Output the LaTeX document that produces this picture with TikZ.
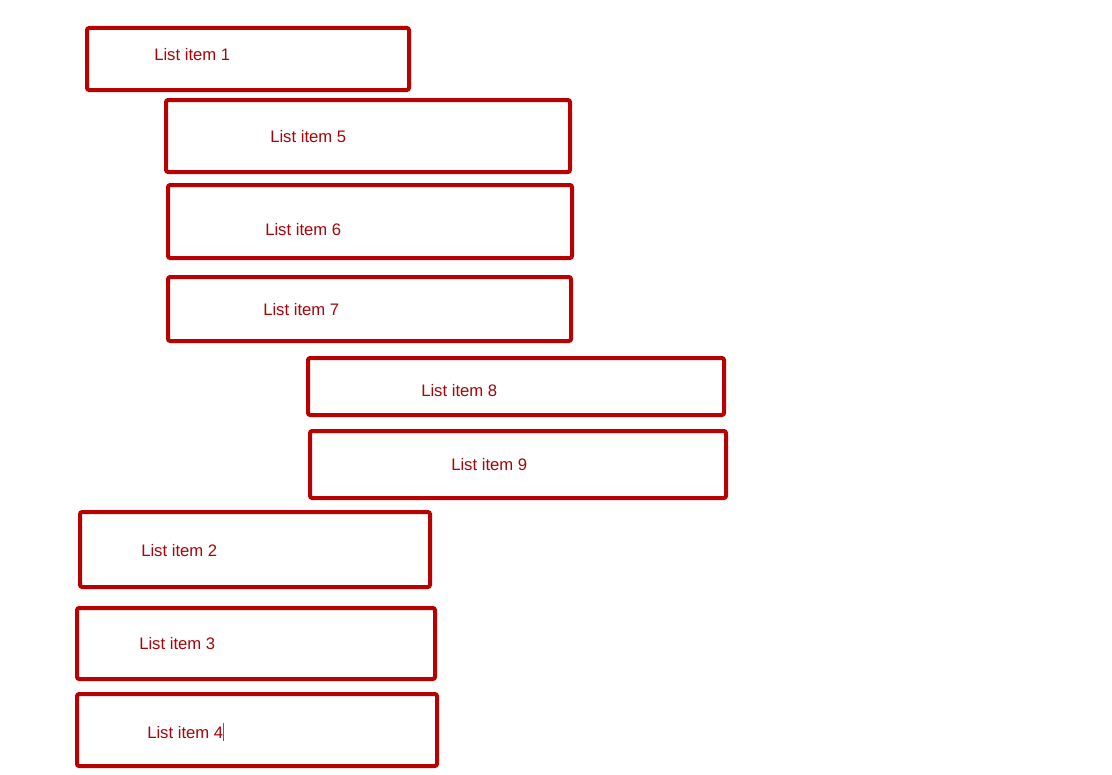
\documentclass[tikz,border=0pt]{standalone}
\usepackage{fontspec}
\setmainfont{Liberation Sans}
\definecolor{boxred}{RGB}{184,2,2}
\definecolor{txtred}{RGB}{168,4,10}
\definecolor{caret}{RGB}{100,100,100}
\tikzset{
  itembox/.style={draw=boxred, line width=3pt, rounded corners=1.6pt, inner sep=0pt, fill=none},
  itemtext/.style={text=txtred, font=\fontsize{12.5pt}{14pt}\selectfont, anchor=west, inner sep=0pt}
}
\newcommand{\lbox}[8]{%
  \node[itembox, minimum width={(#4-#2)*0.75pt}, minimum height={(#5-#3)*0.75pt}] (b#1) at ({(#2+#4)/2},{(#3+#5)/2}) {};
  \node[itemtext] (t#1) at (#6,#7+1) {#8};
}
\begin{document}
\begin{tikzpicture}[x=0.75pt,y=-0.75pt]
\useasboundingbox (0,0) rectangle (1112,774);
\fill[white] (0,0) rectangle (1112,774);
\lbox{1}{87}{28}{409}{90}{154}{54}{List item 1}
\lbox{5}{166}{100}{570}{172}{270}{136}{List item 5}
\lbox{6}{168}{185}{572}{258}{265}{229}{List item 6}
\lbox{7}{168}{277}{571}{341}{263}{309}{List item 7}
\lbox{8}{308}{358}{724}{415}{421}{390}{List item 8}
\lbox{9}{310}{431}{726}{498}{451}{464}{List item 9}
\lbox{2}{80}{512}{430}{587}{141}{550}{List item 2}
\lbox{3}{77}{608}{435}{679}{139}{643}{List item 3}
\lbox{4}{77}{694}{437}{766}{147}{731}{List item 4\textcolor{caret}{\rule[-2.5pt]{0.9pt}{14pt}}}
\end{tikzpicture}
\end{document}
